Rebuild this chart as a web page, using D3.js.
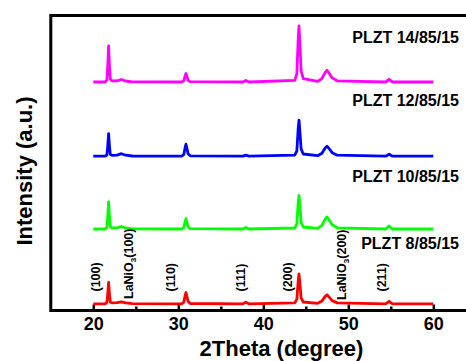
<!DOCTYPE html>
<html>
<head>
<meta charset="utf-8">
<script src="https://cdn.jsdelivr.net/npm/d3@7"></script>
<style>
  html, body { margin: 0; padding: 0; background: #fff; }
  svg { display: block; }
  text { font-family: "Liberation Sans", Arial, sans-serif; fill: #000; }
</style>
</head>
<body>
<svg id="chart" width="466" height="361"></svg>
<script>
// Diffraction angle grid (degrees) shared by all four patterns
const twoTheta = [
  20.0, 21.4, 21.6, 21.7, 21.8, 21.9, 22.0, 22.2, 22.8, 23.3, 23.8, 24.6,
  30.4, 30.65, 30.8, 30.9, 31.0, 31.15, 31.4,
  37.6, 37.95, 38.3,
  43.7, 43.95, 44.1, 44.2, 44.3, 44.45, 44.7,
  46.4, 46.9, 47.3, 47.5, 47.7, 48.1, 48.7,
  54.4, 54.8, 55.2, 60.0
];

// Stacked intensities (a.u., vertically offset patterns)
const plzt14 = [
  228.5, 228.5, 230.7, 244.7, 264.5, 244.7, 231.4, 229.6, 229.7, 231.0, 229.5, 228.7,
  228.5, 229.8, 234.5, 237.0, 234.5, 230.2, 228.8,
  228.5, 230.0, 228.5,
  230.2, 236.9, 270.5, 284.5, 267.7, 239.7, 231.9,
  229.1, 232.0, 238.4, 240.2, 237.9, 232.6, 229.7,
  228.5, 231.0, 228.5, 228.5
];
const plzt12 = [
  154.3, 154.3, 155.7, 164.4, 176.8, 164.4, 156.1, 155.2, 155.4, 156.8, 155.3, 154.5,
  154.3, 156.1, 162.7, 166.3, 162.7, 156.7, 154.7,
  154.3, 155.3, 154.3,
  155.4, 159.7, 181.3, 190.3, 179.5, 161.5, 156.5,
  154.8, 157.3, 162.8, 164.3, 162.3, 157.8, 155.3,
  154.3, 156.3, 154.3, 154.3
];
const plzt10 = [
  81.5, 81.5, 83.1, 93.7, 108.5, 93.7, 83.7, 82.6, 82.7, 84.0, 82.5, 81.7,
  81.5, 83.0, 88.7, 91.8, 88.7, 83.6, 81.8,
  81.5, 83.0, 81.5,
  82.5, 86.6, 106.8, 115.2, 105.1, 88.2, 83.5,
  82.1, 85.1, 91.7, 93.5, 91.1, 85.7, 82.7,
  81.5, 84.5, 81.5, 81.5
];
const plzt8 = [
  6.7, 6.7, 8.0, 16.4, 28.2, 16.4, 8.4, 7.6, 7.8, 8.7, 7.6, 6.9,
  6.7, 8.4, 14.6, 18.0, 14.6, 9.0, 7.0,
  6.7, 8.2, 6.7,
  7.6, 11.2, 29.1, 36.5, 27.6, 12.7, 8.5,
  7.2, 9.4, 14.4, 15.7, 13.9, 9.9, 7.6,
  6.7, 9.2, 6.7, 6.7
];

const seriesNames = ["PLZT 14/85/15", "PLZT 12/85/15", "PLZT 10/85/15", "PLZT 8/85/15"];
const seriesValues = [plzt14, plzt12, plzt10, plzt8];
const seriesColors = ["#ff00ff", "#0000ff", "#00ff00", "#ff0000"];
// Vertical level (a.u.) where each sample name sits
const seriesLabelLevel = [268, 205, 129, 62];

// Reflection annotations: text and the angle / level where each is written
const peakLabels = ["(100)", "LaNiO3(100)", "(110)", "(111)", "(200)", "LaNiO3(200)", "(211)"];
const peakLabelAngle = [20.2, 24.1, 29.1, 37.3, 42.85, 49.15, 53.95];
const peakLabelLevel = [19, 11.5, 19, 19, 19, 10.5, 19];

const majorTicks = [20, 30, 40, 50, 60];
const minorTicks = [25, 35, 45, 55];

const svg = d3.select("#chart");

const x = d3.scaleLinear().domain([15, 65]).range([50.8, 475.8]);
const y = d3.scaleLinear().domain([0, 295]).range([310.5, 15.5]);

// Frame (right side runs past the visible area)
svg.append("rect")
  .attr("x", x(15)).attr("y", y(295))
  .attr("width", x(65) - x(15)).attr("height", y(0) - y(295))
  .attr("fill", "none").attr("stroke", "#000").attr("stroke-width", 3);

// Bottom axis: inward major ticks with labels, then inward minor ticks
const xAxis = svg.append("g")
  .attr("transform", `translate(0,${y(0)})`)
  .call(d3.axisBottom(x).tickValues(majorTicks).tickSizeInner(-6).tickSizeOuter(0).tickPadding(7));
xAxis.select(".domain").remove();
xAxis.selectAll(".tick line").attr("stroke", "#000").attr("stroke-width", 2.5);
xAxis.selectAll(".tick text")
  .attr("font-size", 18).attr("font-weight", "bold")
  .style("font-family", "'Liberation Sans', Arial, sans-serif").attr("fill", "#000");

const xMinor = svg.append("g")
  .attr("transform", `translate(0,${y(0)})`)
  .call(d3.axisBottom(x).tickValues(minorTicks).tickSizeInner(-4).tickSizeOuter(0).tickFormat(""));
xMinor.select(".domain").remove();
xMinor.selectAll(".tick line").attr("stroke", "#000").attr("stroke-width", 2.5);

// Patterns
const line = d3.line()
  .x((d, i) => x(twoTheta[i]))
  .y(d => y(d));

svg.append("g")
  .selectAll("path")
  .data(seriesValues)
  .join("path")
  .attr("d", line)
  .attr("fill", "none")
  .attr("stroke", (d, i) => seriesColors[i])
  .attr("stroke-width", 2.8)
  .attr("stroke-linejoin", "round");

// Sample names
svg.append("g")
  .selectAll("text")
  .data(seriesNames)
  .join("text")
  .attr("x", 459)
  .attr("y", (d, i) => y(seriesLabelLevel[i]))
  .attr("text-anchor", "end")
  .attr("font-size", 16)
  .attr("font-weight", "bold")
  .text(d => d);

// Reflection indices, written vertically
const ann = svg.append("g")
  .selectAll("text")
  .data(peakLabels)
  .join("text")
  .attr("transform", (d, i) => `translate(${x(peakLabelAngle[i])},${y(peakLabelLevel[i])}) rotate(-90)`)
  .attr("dy", "0.36em")
  .attr("font-size", 12.5)
  .attr("font-weight", "bold");

ann.each(function (d) {
  const t = d3.select(this);
  const m = d.match(/^LaNiO3(.*)$/);
  if (m) {
    t.append("tspan").text("LaNiO");
    t.append("tspan").attr("font-size", 8).attr("dy", 3).text("3");
    t.append("tspan").attr("dy", -3).text(m[1]);
  } else {
    t.text(d);
  }
});

// Axis titles
svg.append("text")
  .attr("x", 281.5).attr("y", 355.5)
  .attr("text-anchor", "middle")
  .attr("font-size", 22).attr("font-weight", "bold")
  .text("2Theta (degree)");

svg.append("text")
  .attr("transform", "translate(31.7,171) rotate(-90)")
  .attr("text-anchor", "middle")
  .attr("font-size", 22).attr("font-weight", "bold")
  .text("Intensity (a.u.)");
</script>
</body>
</html>
